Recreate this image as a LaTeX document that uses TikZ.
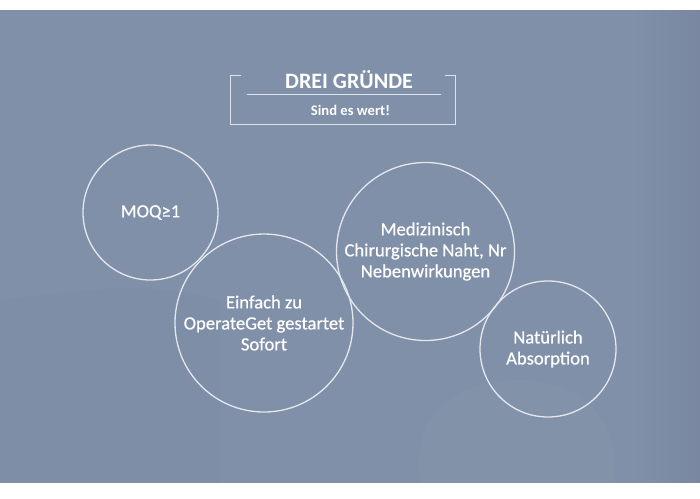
\documentclass[tikz,border=0pt]{standalone}
\usepackage{fontspec}
\setmainfont{Carlito}
\newfontfamily\semifont[FakeBold=0.6]{Carlito}
\definecolor{bg}{RGB}{128,144,168}
\definecolor{bgdark}{RGB}{121,136,160}
\definecolor{ring}{RGB}{228,232,238}
\definecolor{frame}{RGB}{222,226,234}
\begin{document}
\begin{tikzpicture}[x=1pt,y=-1pt,
  bubble/.style={circle,draw=ring,line width=1.3pt,inner sep=0pt,text=white,
    align=center,font=\semifont\fontsize{18.6}{21}\selectfont},
  framerule/.style={draw=frame,line width=0.9pt}]
\useasboundingbox (0,0) rectangle (700,498);
\fill[bg] (0,10) rectangle (700,483);
\shade[left color=bg,right color=bgdark] (630,10) rectangle (700,483);
% faint background shapes
\fill[bgdark,opacity=0.18] (0,300) .. controls (80,290) and (150,280) .. (220,300) -- (220,483) -- (0,483) -- cycle;
\fill[white,opacity=0.02] (420,483) .. controls (410,420) and (450,380) .. (520,380) .. controls (590,380) and (620,430) .. (615,483) -- cycle;
\fill[white] (0,0) rectangle (700,10);
\fill[white] (0,483) rectangle (700,498);
% title frame
\coordinate (tl) at (230.5,75.5);
\coordinate (tr) at (455.5,75.5);
\coordinate (bl) at (230.5,124);
\coordinate (br) at (455.5,124);
\draw[framerule] ([xshift=10.5pt]tl) -- (tl) -- (bl) -- (br) -- (tr) -- ([xshift=-10.5pt]tr);
\coordinate (sl) at (246.5,94.5);
\coordinate (sr) at (441,94.5);
\draw[framerule] (sl) -- (sr);
\node[text=white,font=\bfseries\fontsize{22}{24}\selectfont,inner sep=0pt] (title) at (349,79.5) {DREI GR\"UNDE};
\node[text=white,font=\bfseries\fontsize{14.6}{16}\selectfont,inner sep=0pt] (sub) at (350.5,110) {Sind es wert!};
% bubbles
\node[bubble,minimum size=135pt] (moq) at (150.5,212.5) {MOQ≥1};
\node[bubble,minimum size=178pt] (einfach) at (264,323) {Einfach zu\\OperateGet gestartet\\Sofort};
\node[bubble,minimum size=178pt] (medi) at (425.5,251.5) {Medizinisch\\Chirurgische Naht, Nr\\Nebenwirkungen};
\node[bubble,minimum size=136pt] (natur) at (548,349) {Nat\"urlich\\Absorption};
\end{tikzpicture}
\end{document}
